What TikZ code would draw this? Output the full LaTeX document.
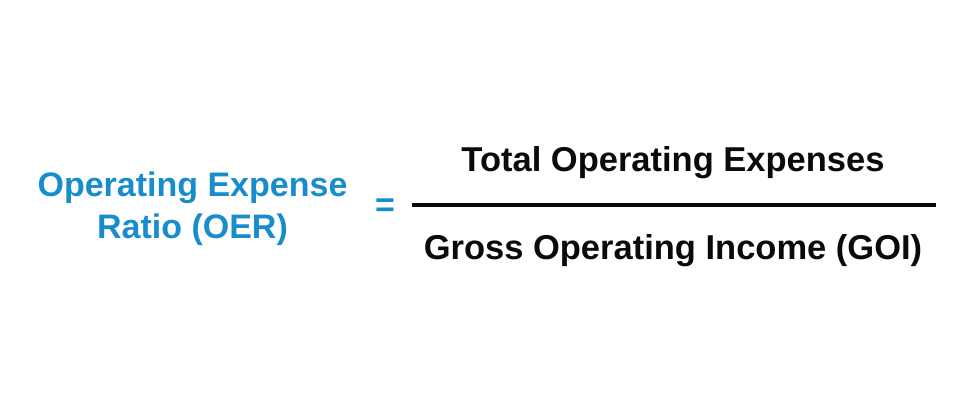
\documentclass[tikz,border=0pt]{standalone}
\usepackage{fontspec}
\setmainfont{Liberation Sans}
\usetikzlibrary{positioning}
\definecolor{oerBlue}{RGB}{24,141,204}
\definecolor{oerBlack}{RGB}{10,10,10}

\begin{document}
\begin{tikzpicture}[x=1pt, y=-1pt]
      \useasboundingbox (0,0) rectangle (960,411);
      \node[inner sep=0pt, align=center, text=oerBlue, font=\fontsize{34}{42}\selectfont\bfseries] (oer) at (192.5,209) {Operating Expense\\Ratio (OER)};
      \node[inner sep=0pt, text=oerBlue, font=\fontsize{34}{40}\selectfont\bfseries] (eq) at (385,208) {=};
      \coordinate (barL) at (412,205);
      \coordinate (barR) at (936,205);
      \node[inner sep=0pt, text=oerBlack, font=\fontsize{34.5}{40}\selectfont\bfseries] (num) at (673,163) {Total Operating Expenses};
      \node[inner sep=0pt, text=oerBlack, font=\fontsize{34.5}{40}\selectfont\bfseries] (den) at (673,251) {Gross Operating Income (GOI)};
      
      \draw[line width=3.2pt, oerBlack] (barL) -- (barR);
    \end{tikzpicture}
\end{document}
